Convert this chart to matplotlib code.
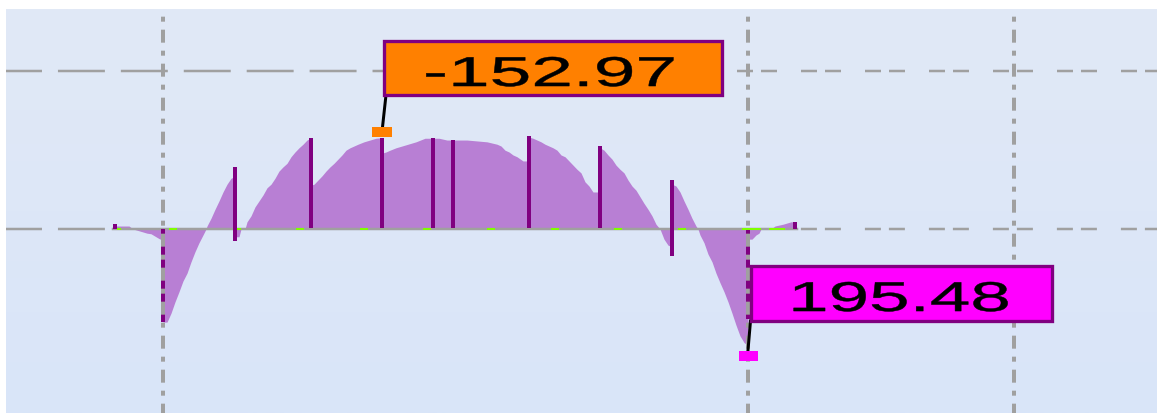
"""Bending moment diagram of a two-span beam with overhangs, redrawn with matplotlib."""

import numpy as np
import matplotlib
matplotlib.use("Agg")
import matplotlib.pyplot as plt
from matplotlib.colors import LinearSegmentedColormap
from matplotlib.patches import Rectangle
from matplotlib.patheffects import AbstractPathEffect
from matplotlib.transforms import Affine2D

plt.rcParams['lines.scale_dashes'] = False
plt.rcParams['font.family'] = ['Liberation Sans', 'DejaVu Sans']

# stations along the beam (m) and bending moment (kN*m), jumps repeat the station
x_m = [-1.00, -1.00, -0.68, -0.60, -0.44, -0.32, -0.24, -0.16, -0.08, 0.00,
       0.00, 0.08, 0.16, 0.24, 0.32, 0.40, 0.48, 0.56, 0.64, 0.72, 0.80, 0.86,
       0.88, 0.96, 1.04, 1.12, 1.20, 1.28, 1.36, 1.44,
       1.44, 1.52, 1.56, 1.64,
       1.68, 1.76, 1.84, 1.92, 2.00, 2.08, 2.16, 2.24, 2.32, 2.40, 2.48, 2.56,
       2.64, 2.72, 2.80, 2.88, 2.95,
       2.95, 3.02, 3.10, 3.18, 3.26, 3.34, 3.42, 3.50, 3.58, 3.66, 3.74, 3.82,
       3.90, 4.02, 4.14, 4.26, 4.38,
       4.38, 4.46, 4.54, 4.66, 4.78, 4.90, 5.06, 5.24, 5.40, 5.52, 5.68, 5.80,
       6.08, 6.48, 6.68, 6.76, 6.84, 6.92, 7.00, 7.08, 7.20, 7.32,
       7.32, 7.40, 7.48, 7.56, 7.64, 7.72, 7.80, 7.88, 7.96, 8.04, 8.12, 8.20,
       8.28, 8.36, 8.44, 8.52, 8.60, 8.74,
       8.74, 8.82, 8.90, 8.98, 9.06, 9.14, 9.22, 9.30, 9.38, 9.46, 9.54, 9.62,
       9.70, 9.78, 9.86, 9.94, 10.02, 10.10, 10.18,
       10.18, 10.26, 10.34, 10.42, 10.50, 10.58, 10.66, 10.70, 10.74, 10.82,
       10.90, 10.98, 11.06, 11.14, 11.22, 11.30, 11.38, 11.46, 11.54, 11.62, 11.70,
       11.70, 11.78, 11.86, 11.92, 11.96, 12.16, 12.24, 12.40, 12.56, 12.64, 12.64]
moment = [0, -5, -5, 0, 4, 7, 8, 12, 16, 19,
          156, 156, 141, 122, 105, 87, 74, 55, 38, 23, 10, 0,
          -5, -18, -33, -47, -62, -75, -85, -88,
          13, 13, 0, 0,
          -12, -22, -37, -47, -57, -69, -75, -85, -97, -104, -110, -121,
          -129, -136, -142, -149, -152,
          -73, -75, -82, -89, -97, -104, -110, -117, -124, -132, -136, -139,
          -142, -146, -149, -152, -152.97,
          -127, -129, -132, -136, -139, -142, -146, -152, -152, -152, -149, -149,
          -149, -146, -142, -139, -132, -129, -124, -121, -114, -114,
          -154, -152, -149, -146, -142, -139, -136, -132, -124, -121, -114, -107,
          -100, -94, -79, -72, -62, -62,
          -136, -132, -124, -117, -107, -100, -94, -82, -72, -65, -54, -43,
          -33, -22, -8, 0, 17, 27, 30,
          -75, -72, -62, -47, -33, -18, -5, 0, 10, 23,
          42, 55, 74, 90, 105, 122, 141, 161, 179, 190, 195.48,
          17, 17, 10, 7, 0, 0, -5, -8, -12, -12, 0]

# vertical ordinates drawn at loads / supports / ends
post_x = [-0.96, 0.00, 1.44, 2.95, 4.38, 5.40, 5.80, 7.32, 8.74, 10.18, 11.70, 12.64]
post_top = [-8, 0, -104, -152, -152, -152, -149, -156, -139, -82, 0, -12]
post_bot = [0, 156, 20, -2, -2, -2, -2, -2, -2, 45, 151, 0]

# small green division marks on the beam axis (start, end in m)
mark_start = [-0.92, 0.12, 1.48, 2.66, 3.94, 5.20, 6.48, 7.76, 9.02, 10.30, 11.58, 12.12]
mark_end = [-0.84, 0.28, 1.56, 2.82, 4.10, 5.36, 6.64, 7.92, 9.18, 10.46, 11.96, 12.44]

# extreme values
min_x, min_val = 4.38, -152.97
max_x, max_val = 11.70, 195.48

grid_x = [0.0, 11.70, 17.02]
grid_y_top = -265

PX = 0.72  # points per pixel at dpi 100
GRAY = '#A0A0A0'
FILL = '#B87FD4'
PURPLE = '#800080'
GREEN = '#80FF00'
ORANGE = '#FF8000'
MAGENTA = '#FF00FF'

XMIN, XMAX = -3.14, 19.88
YTOP, YBOT = -368.5, 308.2


class StretchX(AbstractPathEffect):
    """Widen the text path horizontally to a given pixel width (and thicken it a bit)."""

    def __init__(self, width_px, stroke=0.35):
        super().__init__()
        self.width_px = width_px
        self.stroke = stroke

    def draw_path(self, renderer, gc, tpath, affine, rgbFace=None):
        ext = tpath.get_extents(affine)
        cx = 0.5 * (ext.x0 + ext.x1)
        sx = self.width_px / max(ext.width, 1)
        aff = affine + Affine2D().translate(-cx, 0).scale(sx, 1).translate(cx, 0)
        gc0 = renderer.new_gc()
        gc0.copy_properties(gc)
        gc0.set_linewidth(self.stroke)
        gc0.set_foreground(rgbFace)
        renderer.draw_path(gc0, tpath, aff, rgbFace)
        gc0.restore()


fig = plt.figure(figsize=(11.57, 4.14), dpi=100)
ax = fig.add_axes([6 / 1157, 0, 1151 / 1157, 404 / 414])
ax.set_axis_off()

# soft vertical gradient background
bg = LinearSegmentedColormap.from_list('bg', ['#E1E9F6', '#D9E5F9'])
ax.imshow(np.linspace(0, 1, 256).reshape(-1, 1), cmap=bg, extent=[0, 1, 0, 1],
          transform=ax.transAxes, aspect='auto', zorder=0)

# moment area
ax.fill_between(x_m, 0, moment, color=FILL, lw=0, zorder=2)

# beam axis and horizontal grid
long_dash = (7.9, (33.8, 11.5))
dash_dot = (16 * PX, 24 * PX, 16 * PX, 8 * PX)
ax.plot([XMIN, -1.0], [0, 0], color=GRAY, lw=2.5 * PX, ls=long_dash, zorder=3)
ax.plot([-1.0, 12.68], [0, 0], color=GRAY, lw=2.5 * PX, zorder=3)
ax.plot([12.68, XMAX], [0, 0], color=GRAY, lw=2.5 * PX, ls=(26, dash_dot), zorder=3)
ax.plot([XMIN, 4.42], [grid_y_top] * 2, color=GRAY, lw=2.5 * PX, ls=long_dash, zorder=3)
ax.plot([11.18, XMAX], [grid_y_top] * 2, color=GRAY, lw=2.5 * PX, ls=(18, dash_dot), zorder=3)

# ordinates
ax.vlines(post_x, post_top, post_bot, colors=PURPLE, lw=4 * PX, zorder=3.5,
          capstyle='butt')

# vertical grid on top
for gx in grid_x:
    ax.plot([gx, gx], [YTOP, YBOT], color=GRAY, lw=4 * PX,
            ls=(9.6, (13 * PX, 8 * PX, 5 * PX, 8 * PX)), zorder=4)

ax.hlines([0] * len(mark_start), mark_start, mark_end, colors=GREEN, lw=2 * PX, zorder=5)

# extreme value flags
box_marker = [(-1, -0.55), (1, -0.55), (1, 0.55), (-1, 0.55), (-1, -0.55)]
ax.plot([min_x, 4.46], [min_val - 10, -224.5], color='black', lw=3 * PX, zorder=6)
ax.plot([max_x - 0.01, 11.75], [max_val + 17, 154], color='black', lw=3 * PX, zorder=6)
ax.plot(min_x, min_val - 10, marker=box_marker, ms=20 * PX, color=ORANGE, mew=0, zorder=6.5)
ax.plot(max_x - 0.01, max_val + 17, marker=box_marker, ms=19 * PX, color=MAGENTA, mew=0, zorder=6.5)

ax.add_patch(Rectangle((4.42, -314.9), 6.76, 90.4, fc=ORANGE, ec=PURPLE,
                       lw=3.3 * PX, zorder=7))
ax.add_patch(Rectangle((11.76, 62.0), 6.02, 92.1, fc=MAGENTA, ec=PURPLE,
                       lw=3.3 * PX, zorder=7))
ax.text(7.74, -239.5, f"{min_val:.2f}", ha='center', va='baseline', fontsize=30,
        color='black', path_effects=[StretchX(247)], zorder=8)
ax.text(14.74, 137.4, f"{max_val:.2f}", ha='center', va='baseline', fontsize=30,
        color='black', path_effects=[StretchX(214)], zorder=8)

ax.set_xlim(XMIN, XMAX)
ax.set_ylim(YBOT, YTOP)

fig.savefig('out.png', dpi=100)
